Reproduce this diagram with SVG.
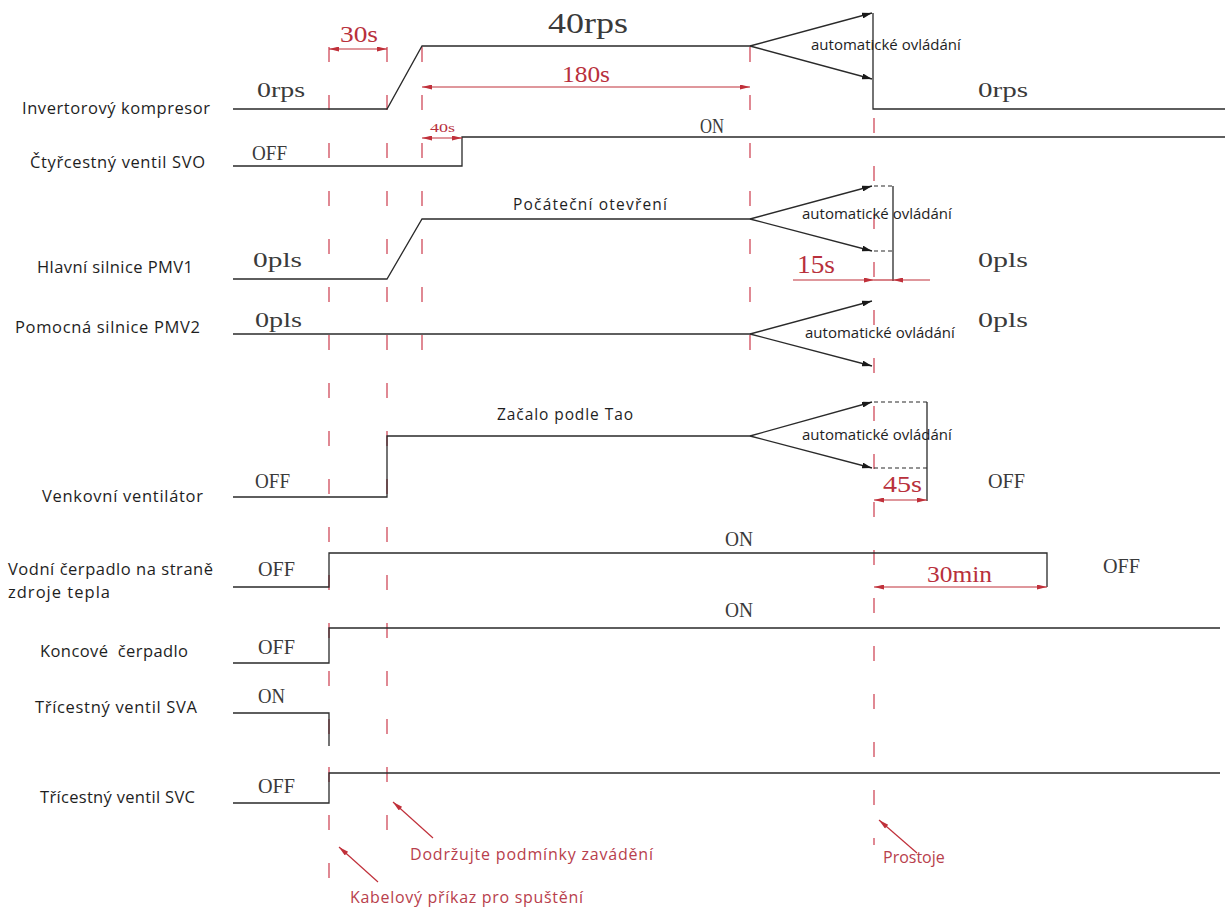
<svg xmlns="http://www.w3.org/2000/svg" width="1225" height="913" viewBox="0 0 1225 913">
<defs>
<style>
.sig{fill:none;stroke:#2a2a2a;stroke-width:1.3}
.dsh{fill:none;stroke:#2a2a2a;stroke-width:1.1;stroke-dasharray:4 3}
.grid{fill:none;stroke:#d04a5a;stroke-width:1.3;stroke-dasharray:15 33}
.dim{fill:none;stroke:#c0303a;stroke-width:1.2}
.lbl{font-family:"Open Sans","Noto Sans",sans-serif;font-size:16.5px;fill:#1e1e1e}
.auto{font-family:"Open Sans","Noto Sans",sans-serif;font-size:15px;fill:#1e1e1e}
.mid{font-family:"Open Sans","Noto Sans",sans-serif;font-size:15.5px;fill:#1e1e1e}
.ser{font-family:"Liberation Serif",serif;font-size:22px;fill:#3a3a3a}
.rser{font-family:"Liberation Serif",serif;font-size:23px;fill:#b8303c}
.note{font-family:"Open Sans","Noto Sans",sans-serif;font-size:16px;fill:#b8404c}
</style>
<marker id="ab" viewBox="0 0 10 6" refX="10" refY="3" markerWidth="10" markerHeight="6" markerUnits="userSpaceOnUse" orient="auto"><path d="M0,0 L10,3 L0,6 z" fill="#1a1a1a"/></marker>
<marker id="ar" viewBox="0 0 12 6" refX="12" refY="3" markerWidth="12" markerHeight="5" markerUnits="userSpaceOnUse" orient="auto-start-reverse"><path d="M0,0 L12,3 L0,6 z" fill="#c0303a"/></marker>
</defs>
<rect width="1225" height="913" fill="#ffffff"/>

<g id="grid">
<line class="grid" x1="329" y1="47" x2="329" y2="880"/>
<line class="grid" x1="387" y1="47" x2="387" y2="845"/>
<line class="grid" x1="422" y1="47" x2="422" y2="366"/>
<line class="grid" x1="750" y1="47" x2="750" y2="366"/>
<line class="grid" x1="874" y1="118" x2="874" y2="845"/>
</g>

<g id="labels">
<text class="lbl" x="22" y="114" textLength="188">Invertorový kompresor</text>
<text class="lbl" x="30" y="168" textLength="175">Čtyřcestný ventil SVO</text>
<text class="lbl" x="37" y="273" textLength="156">Hlavní silnice PMV1</text>
<text class="lbl" x="15" y="333" textLength="185">Pomocná silnice PMV2</text>
<text class="lbl" x="42" y="502" textLength="161">Venkovní ventilátor</text>
<text class="lbl" x="8" y="575" textLength="205">Vodní čerpadlo na straně</text>
<text class="lbl" x="8" y="598" textLength="102">zdroje tepla</text>
<text class="lbl" x="40" y="657" textLength="148" xml:space="preserve">Koncové  čerpadlo</text>
<text class="lbl" x="35" y="713" textLength="162">Třícestný ventil SVA</text>
<text class="lbl" x="40" y="803" textLength="155">Třícestný ventil SVC</text>
</g>

<g id="compressor">
<polyline class="sig" points="233,109 387,109 422,46 750,46"/>
<polyline class="sig" points="873,13 873,109 1225,109"/>
<text class="ser" x="257" y="97" textLength="48" lengthAdjust="spacingAndGlyphs">0rps</text>
<text class="ser" x="548" y="33" style="font-size:29px" textLength="80" lengthAdjust="spacingAndGlyphs">40rps</text>
<text class="ser" x="978" y="97" textLength="50" lengthAdjust="spacingAndGlyphs">0rps</text>
<text class="auto" x="811" y="50">automatické ovládání</text>
</g>

<g id="svo">
<polyline class="sig" points="233,166 462,166 462,137 1225,137"/>
<text class="ser" x="252" y="160" textLength="35" lengthAdjust="spacingAndGlyphs">OFF</text>
<text class="ser" x="700" y="133" textLength="24" lengthAdjust="spacingAndGlyphs">ON</text>
</g>

<g id="pmv1">
<polyline class="sig" points="233,279 387,279 422,219 750,219"/>
<polyline class="dsh" points="874,186 893,186"/>
<polyline class="dsh" points="874,251 893,251"/>
<line class="sig" x1="893" y1="186" x2="893" y2="281"/>
<text class="mid" x="513" y="210" textLength="154">Počáteční otevření</text>
<text class="ser" x="253" y="267" textLength="49" lengthAdjust="spacingAndGlyphs">0pls</text>
<text class="ser" x="978" y="267" textLength="50" lengthAdjust="spacingAndGlyphs">0pls</text>
<text class="auto" x="802" y="219">automatické ovládání</text>
</g>

<g id="pmv2">
<line class="sig" x1="233" y1="334" x2="750" y2="334"/>
<text class="ser" x="255" y="327" textLength="47" lengthAdjust="spacingAndGlyphs">0pls</text>
<text class="ser" x="978" y="327" textLength="50" lengthAdjust="spacingAndGlyphs">0pls</text>
<text class="auto" x="805" y="338">automatické ovládání</text>
</g>

<g id="fan">
<polyline class="sig" points="233,497 387,497 387,436 750,436"/>
<polyline class="dsh" points="874,402 927,402"/>
<polyline class="dsh" points="874,468 927,468"/>
<line class="sig" x1="927" y1="402" x2="927" y2="501"/>
<text class="mid" x="497" y="420" textLength="136">Začalo podle Tao</text>
<text class="ser" x="255" y="488" textLength="35" lengthAdjust="spacingAndGlyphs">OFF</text>
<text class="ser" x="988" y="488" textLength="37" lengthAdjust="spacingAndGlyphs">OFF</text>
<text class="auto" x="802" y="440">automatické ovládání</text>
</g>

<g id="waterpump">
<polyline class="sig" points="233,587 329,587 329,553 1047,553 1047,587"/>
<text class="ser" x="258" y="576" textLength="37" lengthAdjust="spacingAndGlyphs">OFF</text>
<text class="ser" x="725" y="546" textLength="28" lengthAdjust="spacingAndGlyphs">ON</text>
<text class="ser" x="1103" y="573" textLength="37" lengthAdjust="spacingAndGlyphs">OFF</text>
</g>

<g id="endpump">
<polyline class="sig" points="233,663 329,663 329,628 1220,628"/>
<text class="ser" x="258" y="654" textLength="37" lengthAdjust="spacingAndGlyphs">OFF</text>
<text class="ser" x="725" y="617" textLength="28" lengthAdjust="spacingAndGlyphs">ON</text>
</g>

<g id="sva">
<polyline class="sig" points="233,713 329,713 329,746"/>
<text class="ser" x="258" y="703" textLength="27" lengthAdjust="spacingAndGlyphs">ON</text>
</g>

<g id="svc">
<polyline class="sig" points="233,803 329,803 329,773 1220,773"/>
<text class="ser" x="258" y="793" textLength="37" lengthAdjust="spacingAndGlyphs">OFF</text>
</g>

<g id="connectors">
<line class="sig" x1="750" y1="46" x2="872" y2="13" marker-end="url(#ab)"/>
<line class="sig" x1="750" y1="46" x2="872" y2="79" marker-end="url(#ab)"/>
<line class="sig" x1="750" y1="219" x2="872" y2="186" marker-end="url(#ab)"/>
<line class="sig" x1="750" y1="219" x2="872" y2="251" marker-end="url(#ab)"/>
<line class="sig" x1="750" y1="334" x2="872" y2="301" marker-end="url(#ab)"/>
<line class="sig" x1="750" y1="334" x2="872" y2="366" marker-end="url(#ab)"/>
<line class="sig" x1="750" y1="436" x2="872" y2="402" marker-end="url(#ab)"/>
<line class="sig" x1="750" y1="436" x2="872" y2="468" marker-end="url(#ab)"/>
</g>

<g id="dimensions">
<line class="dim" x1="329" y1="49" x2="387" y2="49" marker-start="url(#ar)" marker-end="url(#ar)"/>
<text class="rser" x="340" y="42" textLength="38" lengthAdjust="spacingAndGlyphs">30s</text>
<line class="dim" x1="422" y1="87" x2="750" y2="87" marker-start="url(#ar)" marker-end="url(#ar)"/>
<text class="rser" x="562" y="82" textLength="48" lengthAdjust="spacingAndGlyphs">180s</text>
<line class="dim" x1="422" y1="138" x2="462" y2="138" marker-start="url(#ar)" marker-end="url(#ar)"/>
<text class="rser" x="430" y="132" style="font-size:13px" textLength="25" lengthAdjust="spacingAndGlyphs">40s</text>
<line class="dim" x1="793" y1="280" x2="874" y2="280" marker-end="url(#ar)"/>
<line class="dim" x1="930" y1="280" x2="893" y2="280" marker-end="url(#ar)"/>
<line class="dim" x1="874" y1="280" x2="893" y2="280"/>
<text class="rser" x="797" y="273" style="font-size:26px" textLength="38" lengthAdjust="spacingAndGlyphs">15s</text>
<line class="dim" x1="874" y1="500" x2="927" y2="500" marker-start="url(#ar)" marker-end="url(#ar)"/>
<text class="rser" x="883" y="492" textLength="39" lengthAdjust="spacingAndGlyphs">45s</text>
<line class="dim" x1="874" y1="587" x2="1047" y2="587" marker-start="url(#ar)" marker-end="url(#ar)"/>
<text class="rser" x="927" y="582" textLength="65" lengthAdjust="spacingAndGlyphs">30min</text>
</g>

<g id="notes">
<line class="dim" x1="433" y1="838" x2="393" y2="802" marker-end="url(#ar)"/>
<text class="note" x="410" y="860" textLength="243">Dodržujte podmínky zavádění</text>
<line class="dim" x1="378" y1="882" x2="339" y2="847" marker-end="url(#ar)"/>
<text class="note" x="350" y="903" textLength="233">Kabelový příkaz pro spuštění</text>
<line class="dim" x1="917" y1="853" x2="879" y2="820" marker-end="url(#ar)"/>
<text class="note" x="883" y="863">Prostoje</text>
</g>
</svg>
